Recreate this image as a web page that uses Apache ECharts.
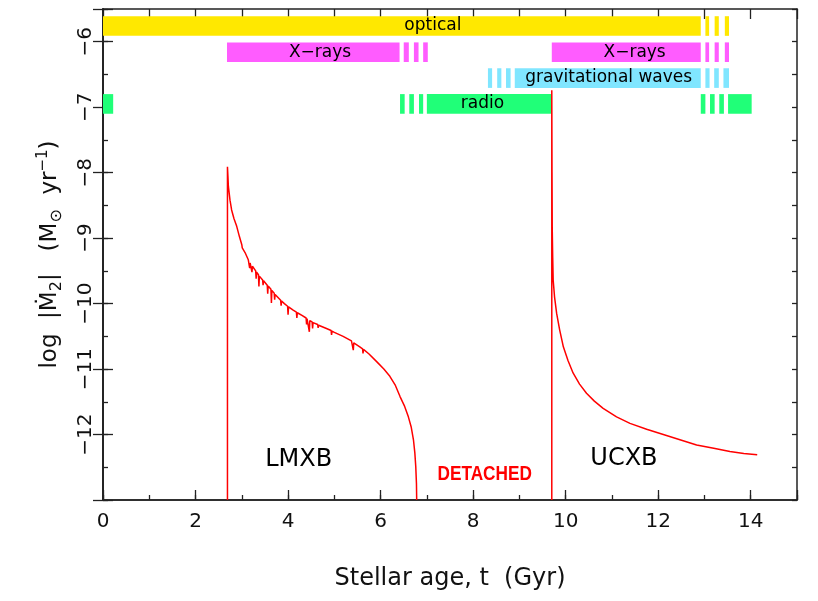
<!DOCTYPE html>
<html>
<head>
<meta charset="utf-8">
<script src="https://cdn.jsdelivr.net/npm/echarts@6/dist/echarts.min.js"></script>
<style>
  html, body { margin: 0; padding: 0; background: #fff; }
  #chart { width: 818px; height: 601px; }
</style>
</head>
<body>
<div id="chart"></div>
<script>
// mass transfer rate, LMXB phase (age in Gyr, log |dM2/dt|)
const lmxbAge = [2.69, 2.69, 2.70, 2.71, 2.745, 2.78, 2.83, 2.89, 2.95, 3.00, 3.01, 3.02, 3.07, 3.14, 3.16, 3.17, 3.18,
  3.21, 3.22, 3.23, 3.30, 3.31, 3.32, 3.36, 3.37, 3.38, 3.39, 3.45, 3.46, 3.47, 3.55, 3.56, 3.57,
  3.63, 3.64, 3.65, 3.70, 3.71, 3.72, 3.75, 3.84, 3.85, 3.86, 3.92, 3.99, 4.00, 4.01, 4.11, 4.18,
  4.19, 4.20, 4.30, 4.39, 4.40, 4.41, 4.45, 4.46, 4.47, 4.52, 4.53, 4.54, 4.64, 4.65, 4.66, 4.83,
  4.93, 4.94, 4.95, 5.00, 5.19, 5.37, 5.40, 5.41, 5.42, 5.55, 5.61, 5.62, 5.63, 5.75, 5.92, 6.07,
  6.20, 6.32, 6.42, 6.52, 6.60, 6.66, 6.71, 6.74, 6.76, 6.775, 6.78];
const lmxbLogMdot = [-13.0, -7.91, -8.05, -8.21, -8.42, -8.57, -8.70, -8.82, -8.98, -9.10, -9.15, -9.12, -9.22, -9.33, -9.36, -9.46, -9.38,
  -9.41, -9.52, -9.43, -9.50, -9.62, -9.52, -9.56, -9.74, -9.58, -9.59, -9.64, -9.72, -9.65, -9.72, -9.85, -9.73,
  -9.78, -9.99, -9.80, -9.84, -9.94, -9.86, -9.89, -9.95, -10.03, -9.96, -10.00, -10.04, -10.17, -10.05, -10.10, -10.13,
  -10.22, -10.14, -10.18, -10.22, -10.32, -10.23, -10.24, -10.43, -10.26, -10.28, -10.38, -10.29, -10.32, -10.37, -10.33, -10.38,
  -10.41, -10.48, -10.42, -10.44, -10.50, -10.57, -10.59, -10.71, -10.60, -10.66, -10.69, -10.76, -10.70, -10.77, -10.89, -11.00,
  -11.11, -11.25, -11.42, -11.57, -11.73, -11.88, -12.08, -12.28, -12.49, -12.75, -13.0];

// UCXB phase
const ucxbAge = [9.70, 9.70, 9.705, 9.71, 9.72, 9.73, 9.76, 9.805, 9.87, 9.95, 10.05, 10.16, 10.30, 10.45,
  10.62, 10.81, 11.10, 11.39, 11.75, 12.11, 12.47, 12.83, 13.20, 13.55, 13.85, 14.14];
const ucxbLogMdot = [-13.0, -6.74, -8.0, -8.87, -9.30, -9.64, -9.90, -10.15, -10.40, -10.66, -10.87, -11.06, -11.23, -11.37,
  -11.49, -11.60, -11.73, -11.83, -11.92, -12.00, -12.08, -12.16, -12.21, -12.26, -12.29, -12.31];

// observability bands: [start, end] in Gyr
const bandNames = ['optical', 'X−rays', 'gravitational waves', 'radio'];
const bandRowY = [-5.76, -6.16, -6.555, -6.95];
const bandColors = ['#ffe800', '#ff5cff', '#80e6ff', '#20ff78'];
const opticalSpans = [[0, 12.92], [13.02, 13.10], [13.22, 13.31], [13.44, 13.53]];
const xraySpans = [[2.68, 6.41], [6.50, 6.61], [6.72, 6.82], [6.92, 7.02],
  [9.70, 12.92], [13.02, 13.10], [13.22, 13.31], [13.44, 13.53]];
const gwSpans = [[8.32, 8.41], [8.52, 8.61], [8.71, 8.81], [8.90, 12.92],
  [13.02, 13.11], [13.21, 13.31], [13.41, 13.53]];
const radioSpans = [[0, 0.22], [6.42, 6.52], [6.62, 6.72], [6.83, 6.92], [7.00, 9.70],
  [12.92, 13.02], [13.12, 13.22], [13.32, 13.42], [13.51, 14.02]];
const bandSpans = [opticalSpans, xraySpans, gwSpans, radioSpans];

// band captions
const bandLabelText = ['optical', 'X−rays', 'X−rays', 'gravitational waves', 'radio'];
const bandLabelAge = [7.13, 4.69, 11.49, 10.93, 8.20];
const bandLabelRow = [0, 1, 1, 2, 3];

// phase captions
const phaseNames = ['LMXB', 'DETACHED', 'UCXB'];
const phaseAge = [4.23, 8.25, 11.26];
const phaseLog = [-12.39, -12.6, -12.37];

const FONT = 'DejaVu Sans';
const BAND_H = 0.3;

const chart = echarts.init(document.getElementById('chart'), null, { renderer: 'canvas' });

function zip(xs, ys) {
  return xs.map(function (x, i) { return [x, ys[i]]; });
}

function bandSeries(k) {
  return {
    type: 'custom',
    name: bandNames[k],
    silent: true,
    z: 2,
    data: bandSpans[k].map(function (s) { return [s[0], s[1], bandRowY[k]]; }),
    renderItem: function (params, api) {
      const a = api.coord([api.value(0), api.value(2)]);
      const b = api.coord([api.value(1), api.value(2)]);
      const h = api.size([0, BAND_H])[1];
      return {
        type: 'rect',
        shape: { x: a[0], y: a[1] - h / 2, width: b[0] - a[0], height: h },
        style: { fill: bandColors[k] }
      };
    }
  };
}

// plain text placed through the axes
function textSeries(texts, ages, logs, styleOf, z) {
  return {
    type: 'custom',
    silent: true,
    z: z,
    data: texts.map(function (t, i) { return [ages[i], logs[i], i]; }),
    renderItem: function (params, api) {
      const i = api.value(2);
      const p = api.coord([api.value(0), api.value(1)]);
      const st = styleOf(texts[i]);
      return {
        type: 'text',
        x: p[0],
        y: p[1],
        scaleX: st.scaleX || 1,
        style: {
          text: texts[i],
          fill: st.color,
          fontFamily: st.fontFamily,
          fontSize: st.fontSize,
          fontWeight: st.fontWeight || 'normal',
          align: 'center',
          verticalAlign: 'middle'
        }
      };
    }
  };
}

const axisLine = { show: true, lineStyle: { color: '#222', width: 1.5 } };
const tickStyle = { color: '#222', width: 1.3 };

function minus(v) {
  return String(v).replace('-', '−');
}

const option = {
  animation: false,
  backgroundColor: '#fff',
  grid: { left: 103, right: 21, top: 9, bottom: 101, containLabel: false, outerBoundsMode: 'none' },
  xAxis: [
    {
      type: 'value', position: 'bottom', min: 0, max: 15, interval: 2,
      axisLine: axisLine,
      axisTick: { show: true, inside: true, length: 10, lineStyle: tickStyle },
      splitLine: { show: false },
      axisLabel: {
        color: '#111', fontFamily: FONT, fontSize: 20, margin: 12,
        formatter: function (v) { return v % 2 === 0 ? String(v) : ''; }
      },
      name: 'Stellar age, t  (Gyr)',
      nameLocation: 'middle',
      nameGap: 67,
      nameTextStyle: { color: '#111', fontFamily: FONT, fontSize: 24 }
    },
    {
      type: 'value', position: 'bottom', min: 0, max: 15, interval: 1,
      axisLine: axisLine,
      axisTick: { show: true, inside: true, length: 5, lineStyle: tickStyle },
      splitLine: { show: false },
      axisLabel: { show: false }
    },
    {
      type: 'value', position: 'top', min: 0, max: 15, interval: 1,
      axisLine: axisLine,
      axisTick: { show: true, inside: true, length: 10, lineStyle: tickStyle },
      splitLine: { show: false },
      axisLabel: { show: false }
    }
  ],
  yAxis: [
    {
      type: 'value', position: 'left', min: -13, max: -5.5, interval: 1,
      axisLine: axisLine,
      axisTick: { show: true, inside: true, length: 10, lineStyle: tickStyle },
      splitLine: { show: false },
      axisLabel: {
        color: '#111', fontFamily: FONT, fontSize: 20, rotate: 90, margin: 7,
        formatter: function (v) { return (Number.isInteger(v) && v > -13) ? minus(v) : ''; }
      },
      name: '{t|log  |Ṁ}{s|2}{t||   (M}{s|⊙}{t|  yr}{p|−1}{t|)}',
      nameLocation: 'middle',
      nameGap: 38,
      nameTextStyle: {
        color: '#111', fontFamily: FONT, fontSize: 23,
        rich: {
          t: { fontFamily: FONT, fontSize: 23, color: '#111' },
          s: { fontFamily: FONT, fontSize: 16, color: '#111', padding: [14, 0, 0, 0] },
          p: { fontFamily: FONT, fontSize: 15, color: '#111', padding: [0, 0, 14, 0] }
        }
      }
    },
    {
      type: 'value', position: 'left', min: -13, max: -5.5, interval: 0.5,
      axisLine: axisLine,
      axisTick: { show: true, inside: true, length: 5, lineStyle: tickStyle },
      splitLine: { show: false },
      axisLabel: { show: false }
    },
    {
      type: 'value', position: 'right', min: -13, max: -5.5, interval: 1,
      axisLine: axisLine,
      axisTick: { show: true, inside: true, length: 10, lineStyle: tickStyle },
      splitLine: { show: false },
      axisLabel: { show: false }
    },
    {
      type: 'value', position: 'right', min: -13, max: -5.5, interval: 0.5,
      axisLine: axisLine,
      axisTick: { show: true, inside: true, length: 5, lineStyle: tickStyle },
      splitLine: { show: false },
      axisLabel: { show: false }
    }
  ],
  series: [
    bandSeries(0), bandSeries(1), bandSeries(2), bandSeries(3),
    textSeries(bandLabelText, bandLabelAge, bandLabelRow.map(function (r) { return bandRowY[r]; }),
      function () { return { color: '#000', fontFamily: FONT, fontSize: 17 }; }, 3),
    {
      type: 'line',
      name: 'LMXB',
      showSymbol: false,
      silent: true,
      z: 4,
      lineStyle: { color: '#ff0000', width: 1.5 },
      data: zip(lmxbAge, lmxbLogMdot)
    },
    {
      type: 'line',
      name: 'UCXB',
      showSymbol: false,
      silent: true,
      z: 4,
      lineStyle: { color: '#ff0000', width: 1.5 },
      data: zip(ucxbAge, ucxbLogMdot)
    },
    textSeries(phaseNames, phaseAge, phaseLog, function (t) {
      return t === 'DETACHED'
        ? { color: '#ff0000', fontFamily: 'Liberation Sans', fontWeight: 'bold', fontSize: 21, scaleX: 0.82 }
        : { color: '#000', fontFamily: FONT, fontSize: 24 };
    }, 5)
  ]
};

chart.setOption(option);
</script>
</body>
</html>
